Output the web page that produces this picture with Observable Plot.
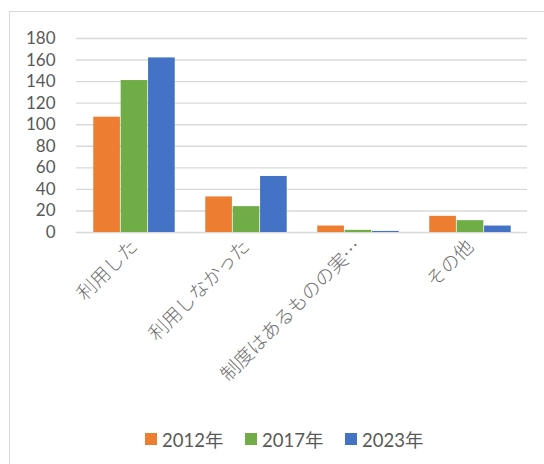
<!DOCTYPE html>
<html>
<head>
<meta charset="utf-8">
<script src="https://cdn.jsdelivr.net/npm/d3@7"></script>
<script src="https://cdn.jsdelivr.net/npm/@observablehq/plot@0.6"></script>
<style>
  html, body { margin: 0; padding: 0; background: #fff; }
  #wrap { position: relative; width: 544px; height: 464px; overflow: hidden; }
  #frame { position: absolute; left: 9px; top: 11px; width: 560px; height: 480px; border: 1px solid #d9d9d9; box-sizing: border-box; pointer-events: none; }
  #legend { position: absolute; left: 0; top: 428px; width: 544px; height: 22px; font-family: Lato, "Noto Sans CJK JP", sans-serif; font-size: 18.5px; color: #595959; }
  .item { position: absolute; top: 0; display: flex; align-items: center; height: 22px; }
  .sw { width: 12px; height: 12px; margin-right: 5px; }
</style>
</head>
<body>
<div id="wrap">
  <div id="chart"></div>
  <div id="frame"></div>
  <div id="legend"></div>
</div>
<script>
const categories = ["利用した", "利用しなかった", "制度はあるものの実…", "その他"];
const years = ["2012年", "2017年", "2023年"];
const colors = ["#ED7D31", "#70AD47", "#4472C4"];
const values2012 = [107, 33, 6, 15];
const values2017 = [141, 24, 2, 11];
const values2023 = [162, 52, 1, 6];
const yTicks = [0, 20, 40, 60, 80, 100, 120, 140, 160, 180];

const series = [values2012, values2017, values2023];
const rows = years.map((yr, i) => categories.map((c, j) => ({cat: c, year: yr, value: series[i][j]})));

const barW = 27.4;
const band = (527 - 76) / categories.length;
const inset = (band - barW) / 2;

const chart = Plot.plot({
  width: 544,
  height: 464,
  marginTop: 38,
  marginBottom: 232,
  marginLeft: 76,
  marginRight: 17,
  x: {domain: categories, padding: 0, label: null, tickSize: 0, tickRotate: -45, tickPadding: 11},
  y: {domain: [0, 180], ticks: yTicks, label: null, tickSize: 0, tickPadding: 21},
  color: {domain: years, range: colors},
  marks: [
    Plot.ruleY(yTicks, {stroke: "#d9d9d9", strokeWidth: 1.4}),
    ...rows.map((r, i) => Plot.barY(r, {
      x: "cat", y: "value", fill: "year",
      insetLeft: inset, insetRight: inset, dx: (i - 1) * barW
    }))
  ]
});
document.getElementById("chart").appendChild(chart);

const svg = d3.select(chart);
svg.selectAll('g[aria-label="y-axis"] text, g[aria-label="y-axis tick label"] text')
  .style("font-family", "Lato, sans-serif").style("font-size", "17px").attr("fill", "#595959");
svg.selectAll('g[aria-label="x-axis"] text, g[aria-label="x-axis tick label"] text')
  .style("font-family", '"Noto Sans CJK JP", sans-serif').style("font-size", "19px").style("font-weight", "300").attr("fill", "#6e6e6e");

const legend = document.getElementById("legend");
const lx = [145, 245, 345];
years.forEach((yr, i) => {
  const it = document.createElement("div");
  it.className = "item";
  it.style.left = lx[i] + "px";
  const sw = document.createElement("div");
  sw.className = "sw";
  sw.style.background = colors[i];
  const t = document.createElement("span");
  t.textContent = yr;
  it.appendChild(sw);
  it.appendChild(t);
  legend.appendChild(it);
});
</script>
</body>
</html>
